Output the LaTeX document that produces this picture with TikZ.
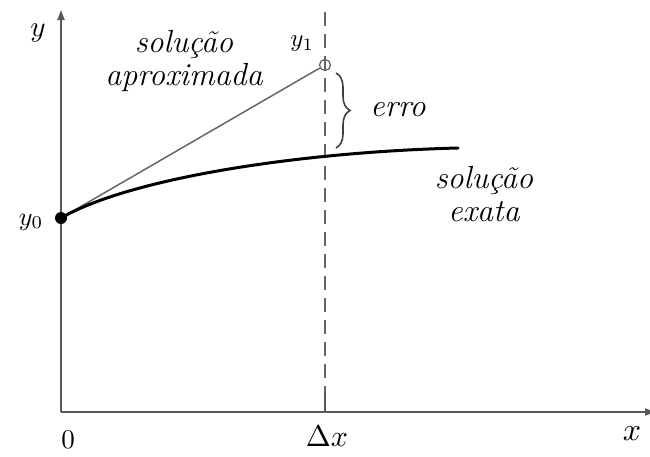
\documentclass[tikz,border=0pt]{standalone}
\usetikzlibrary{decorations.pathreplacing,arrows.meta}
\begin{document}
\begin{tikzpicture}[x=1pt,y=-1pt,
  axis/.style={draw=black!65,line width=2pt},
  approx/.style={draw=black!60,line width=1.5pt},
  exact/.style={draw=black,line width=3pt},
  guide/.style={draw=black!60,line width=1.5pt,dash pattern=on 14pt off 8pt},
  lbl/.style={font=\fontsize{32}{33}\selectfont\itshape,align=center,inner sep=0pt},
  mth/.style={inner sep=0pt}]
\useasboundingbox (0,0) rectangle (650,456);
\coordinate (O) at (61,412);
\coordinate (Ytop) at (61,10);
\coordinate (Xend) at (655,412);
\coordinate (P0) at (61,218);
\coordinate (P1) at (325,65);
\coordinate (Q) at (458,148);
\coordinate (Dtop) at (325,12);
\coordinate (Dbot) at (325,412);
\coordinate (Tk) at (325,392);
\coordinate (Bt) at (336,73);
\coordinate (Bb) at (336,148);
% guide
\draw[guide] (Dtop) -- (Dbot);
% axes
\draw[axis,-{Triangle[length=10pt,width=7pt]}] (O) -- (Ytop);
\draw[axis,-{Triangle[length=10pt,width=7pt]}] (O) -- (Xend);
\draw[axis] (Tk) -- (Dbot);
% approx line
\node[circle,draw=black!60,line width=1.3pt,minimum size=11pt,inner sep=0pt] (C1) at (P1) {};
\draw[approx] (P0) -- (C1);
% exact curve
\draw[exact,line cap=round] (P0) .. controls (130,178) and (300,152) .. (Q);
\fill (P0) circle (6pt);
% brace
\draw[black!75,line width=1.6pt,decorate,decoration={brace,amplitude=14pt}] (Bt) -- (Bb);
% labels
\node[lbl] (err) at (398,110) {erro};
\node[lbl] (sa) at (184,61) {solução\\aproximada};
\node[lbl] (se) at (484,194) {solução\\exata};
\node[mth,scale=2.9] (ly) at (38,33) {$y$};
\node[mth,scale=2.6] (ly0) at (31,222) {$y_0$};
\node[mth,scale=2.5] (ly1) at (302,44) {$y_1$};
\node[mth,scale=2.7] (l0) at (68,440) {$0$};
\node[mth,scale=3.0] (ldx) at (327,436) {$\Delta x$};
\node[mth,scale=3.2] (lx) at (632,434) {$x$};
\end{tikzpicture}
\end{document}
